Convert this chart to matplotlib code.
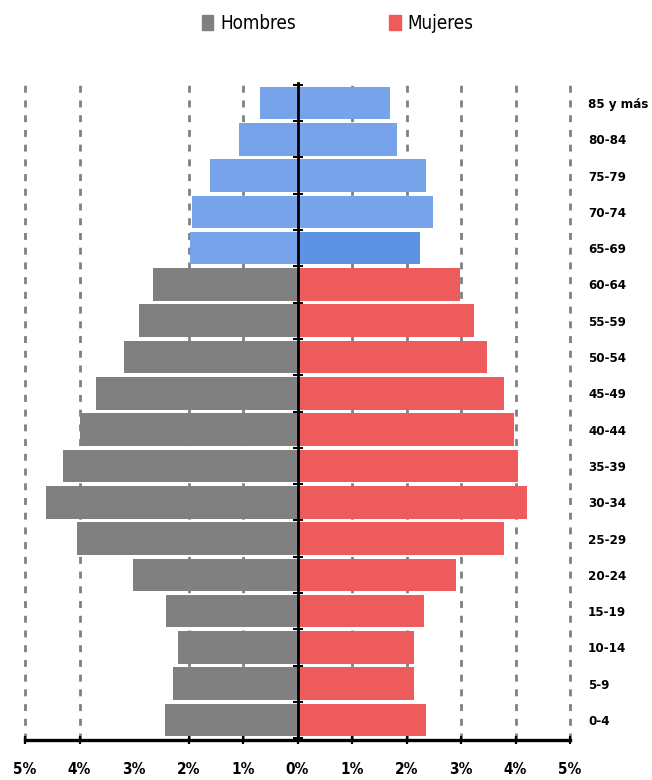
import matplotlib
matplotlib.use("Agg")
import matplotlib.pyplot as plt
import numpy as np
from matplotlib.patches import Patch

# datos (porcentaje de la poblacion total)
grupos = ["0-4", "5-9", "10-14", "15-19", "20-24", "25-29", "30-34", "35-39",
          "40-44", "45-49", "50-54", "55-59", "60-64", "65-69", "70-74",
          "75-79", "80-84", "85 y más"]
hombres = [2.44, 2.28, 2.20, 2.42, 3.01, 4.04, 4.61, 4.31, 4.00, 3.69, 3.19,
           2.90, 2.66, 1.98, 1.93, 1.60, 1.08, 0.68]
mujeres = [2.36, 2.14, 2.14, 2.33, 2.91, 3.79, 4.21, 4.05, 3.97, 3.79, 3.48,
           3.24, 2.99, 2.25, 2.49, 2.36, 1.83, 1.69]
xticks = [-5, -4, -3, -2, -1, 0, 1, 2, 3, 4, 5]
xlabels = ["5%", "4%", "3%", "2%", "1%", "0%", "1%", "2%", "3%", "4%", "5%"]

GRIS = "#808080"
ROJO = "#ED5B5C"
AZUL = "#77A3EA"
AZUL2 = "#5C93E3"

plt.rcParams['font.family'] = ['DejaVu Sans']
plt.rcParams['font.stretch'] = 'condensed'

fig = plt.figure(figsize=(6.52, 7.8), dpi=100)
ax = fig.add_axes([25/652, 1 - 740/780, 545/652, 657/780])

y = np.arange(len(grupos))
col_h = [GRIS if i < 13 else AZUL for i in y]
col_m = [ROJO if i < 13 else AZUL for i in y]
col_m[13] = AZUL2
ax.barh(y, -np.array(hombres), height=0.9, color=col_h)
ax.barh(y, mujeres, height=0.9, color=col_m)

ax.set_xlim(-5, 5)
ax.set_ylim(-0.55, 17.55)
ax.set_axisbelow(True)

# eje x
ax.set_xticks(xticks)
ax.set_xticklabels(xlabels, fontsize=11, fontweight='bold', fontstretch='condensed')
ax.tick_params(axis='x', direction='inout', length=6, width=1.6, pad=13)
ax.xaxis.grid(True, color=GRIS, linewidth=2, linestyle=(0, (2.5, 2.8)))
for t in ax.xaxis.get_major_ticks():
    t.gridline.set_clip_on(False)
ax.xaxis.get_major_ticks()[2].tick1line.set_visible(False)
ax.xaxis.get_major_ticks()[2].gridline.set_visible(False)
ax.xaxis.get_major_ticks()[5].gridline.set_visible(False)

# eje y en el cero, etiquetas a la derecha
ax.spines['left'].set_position(('data', 0))
ax.spines['left'].set_linewidth(2)
ax.spines['bottom'].set_linewidth(2.4)
ax.spines['top'].set_visible(False)
ax.spines['right'].set_visible(False)
ax.set_yticks(y)
ax.set_yticklabels(grupos, fontsize=9.5, fontweight='bold', fontstretch='condensed')
ax.set_yticks(np.arange(len(grupos) + 1) - 0.5, minor=True)
ax.tick_params(axis='y', which='major', left=True, right=False,
               labelleft=False, labelright=True, length=3, width=1.5, pad=10)
ax.tick_params(axis='y', which='minor', left=True, right=False,
               direction='inout', length=7, width=1.5)

# leyenda
fig.legend(handles=[Patch(color=GRIS), Patch(color=ROJO)],
           labels=["Hombres", "Mujeres"], loc='center', ncol=2,
           bbox_to_anchor=(0.518, 0.97), frameon=False,
           prop={'size': 13.5, 'stretch': 'condensed'},
           handlelength=0.6, handleheight=0.85, handletextpad=0.35,
           columnspacing=5.0)

plt.savefig("out.png", dpi=100)
